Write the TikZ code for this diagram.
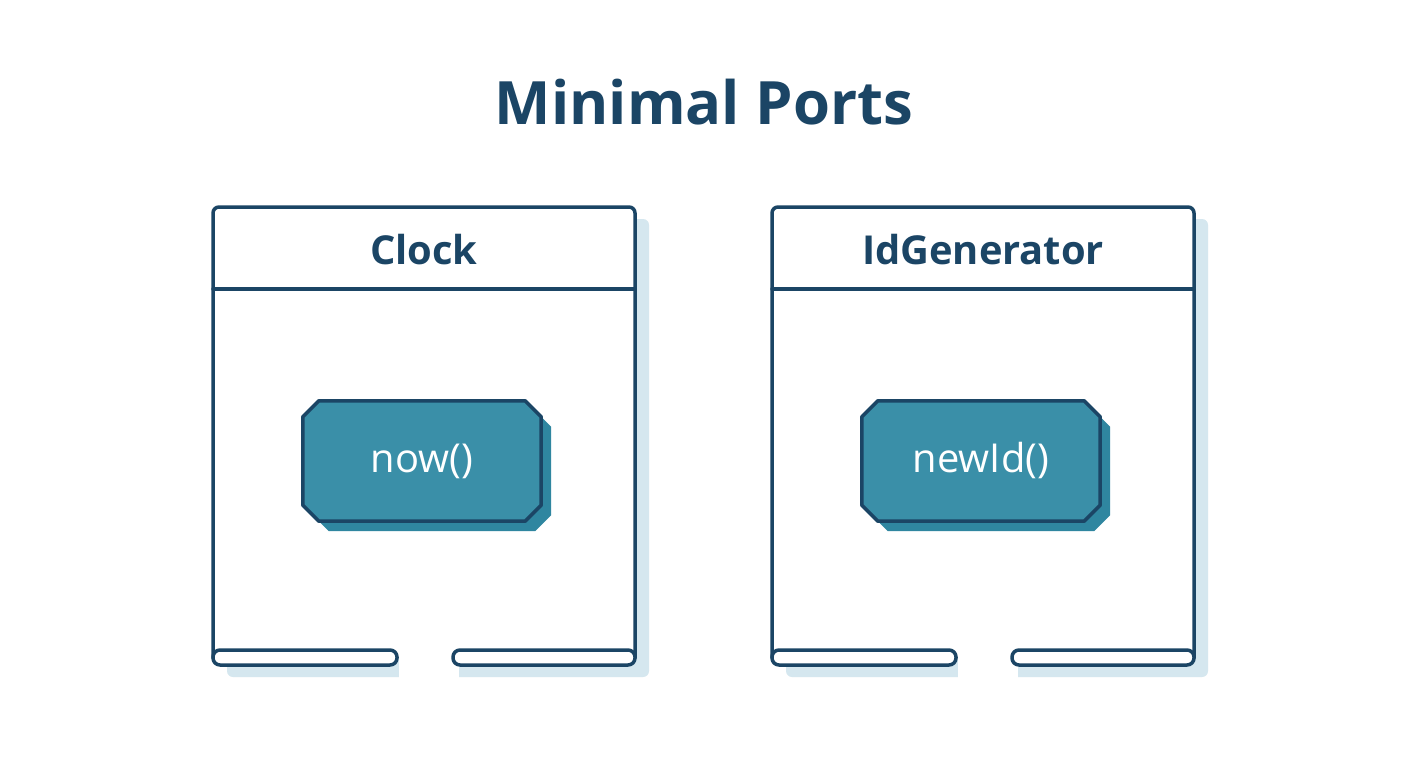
\documentclass[tikz,border=0pt]{standalone}
\usepackage{fontspec}
\setmainfont{Open Sans}
\definecolor{ink}{HTML}{1B4565}
\definecolor{portfill}{HTML}{3A8FA8}
\definecolor{portshadow}{HTML}{2F86A0}
\definecolor{boxshadow}{HTML}{D5E7EF}
\begin{document}
\begin{tikzpicture}[x=1bp,y=-1bp,line cap=round,line join=round,
  frame/.style={draw=ink,line width=3.5bp,rounded corners=6bp},
  bar/.style={draw=ink,line width=3.5bp,fill=white,rounded corners=7bp},
  port/.style={rectangle,minimum width=238bp,minimum height=120bp,
    inner sep=0pt,text=white,font=\fontsize{40}{48}\selectfont}]

% canvas
\useasboundingbox[fill=white] (0,0) rectangle (1408,768);

% parameters
\def\W{422}   % box width
\def\T{207}   % box top
\def\H{289}   % header line
\def\B{650}   % bar top
\def\c{16bp}  % chamfer

% octagon drawn on a node's corners
\newcommand\octa[2]{%
  \path[#2]
    ([xshift=\c]#1.north west) -- ([xshift=-\c]#1.north east)
    -- ([yshift=-\c]#1.north east) -- ([yshift=\c]#1.south east)
    -- ([xshift=-\c]#1.south east) -- ([xshift=\c]#1.south west)
    -- ([yshift=\c]#1.south west) -- ([yshift=-\c]#1.north west) -- cycle;}

\node[font=\bfseries\fontsize{60}{70}\selectfont,text=ink] (title) at (704,102) {Minimal Ports};

\foreach \n/\x/\lab/\op in {clock/213/Clock/now(),idgen/772/IdGenerator/newId()}{
  % shadow
  \fill[boxshadow,rounded corners=6bp] (\x+14,\T+12) rectangle (\x+\W+14,\B+27);
  \fill[white] (\x+186,\B+2) rectangle (\x+246,\B+30);
  % box
  \draw[frame,fill=white] (\x,\B+8) |- (\x+\W,\T) -- (\x+\W,\B+8);
  \draw[ink,line width=3.5bp] (\x,\H) -- (\x+\W,\H);
  \node[font=\bfseries\fontsize{40}{48}\selectfont,text=ink] (\n-head) at (\x+\W/2,250) {\lab};
  % bars
  \draw[bar] (\x,\B) rectangle (\x+184,\B+15);
  \draw[bar] (\x+240,\B) rectangle (\x+\W,\B+15);
  % port
  \node[port] (\n-sh) at (\x+\W/2+8,471) {};
  \node[port] (\n-op) at (\x+\W/2-2,461) {};
  \octa{\n-sh}{fill=portshadow}
  \octa{\n-op}{fill=portfill,draw=ink,line width=3.5bp}
  \node[port] at (\n-op) {\op};
}

\end{tikzpicture}
\end{document}
